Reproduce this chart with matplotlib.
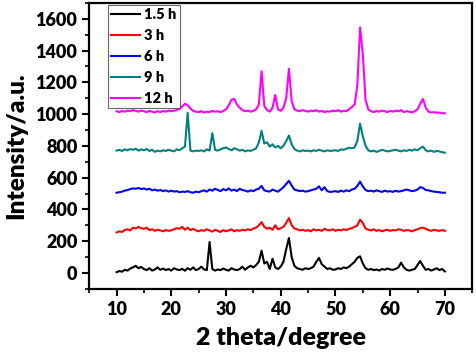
import numpy as np
import matplotlib
matplotlib.use('Agg')
import matplotlib.pyplot as plt
from matplotlib.ticker import MultipleLocator

plt.rcParams['font.family'] = ['Lato', 'DejaVu Sans']
plt.rcParams['font.weight'] = 'heavy'

# 2theta grid, 10..70 deg every 0.5 deg
two_theta = np.arange(10.0, 70.01, 0.5)

# intensities (already offset as in the plot)
h1_5 = [5, 12, 8, 20, 15, 28, 35, 45, 30, 38,
        25, 18, 30, 15, 22, 35, 20, 28, 18, 25,
        15, 30, 22, 18, 26, 14, 30, 20, 35, 18,
        25, 40, 22, 18, 195, 25, 15, 22, 18, 28,
        20, 15, 30, 22, 18, 25, 40, 20, 35, 45,
        35, 50, 70, 140, 60, 70, 25, 90, 35, 25,
        40, 70, 150, 220, 100, 45, 30, 25, 20, 30,
        25, 30, 40, 70, 95, 55, 40, 25, 30, 20,
        22, 30, 25, 35, 30, 40, 55, 70, 95, 105,
        60, 30, 20, 25, 18, 22, 15, 25, 20, 28,
        22, 20, 25, 35, 65, 35, 20, 15, 20, 25,
        50, 75, 45, 20, 25, 15, 22, 30, 18, 25,
        10]
h3 = [255, 262, 258, 270, 275, 268, 285, 280, 290, 282,
      278, 285, 270, 275, 265, 272, 268, 262, 270, 265,
      268, 275, 282, 278, 290, 272, 285, 270, 278, 268,
      262, 270, 265, 275, 268, 260, 272, 265, 258, 270,
      262, 268, 275, 262, 270, 265, 272, 268, 275, 270,
      280, 285, 300, 320, 290, 278, 285, 272, 300, 275,
      282, 290, 315, 345, 300, 280, 275, 268, 272, 265,
      270, 262, 275, 268, 272, 265, 278, 270, 268, 275,
      265, 272, 268, 275, 270, 278, 282, 290, 300, 335,
      315, 280, 272, 268, 275, 265, 270, 262, 268, 272,
      265, 270, 268, 275, 272, 265, 270, 268, 262, 270,
      275, 282, 285, 278, 270, 265, 272, 268, 265, 270,
      265]
h6 = [505, 508, 512, 518, 522, 528, 532, 530, 535, 528,
      532, 525, 530, 520, 525, 518, 522, 515, 520, 512,
      518, 512, 515, 508, 512, 510, 515, 508, 505, 512,
      508, 515, 520, 512, 525, 518, 530, 522, 515, 528,
      520, 532, 518, 525, 515, 530, 522, 518, 512, 520,
      515, 525, 530, 548, 520, 515, 512, 525, 518, 512,
      525, 540, 560, 580, 550, 525, 520, 515, 518, 512,
      515, 520, 525, 530, 545, 520, 540, 515, 510, 512,
      515, 510, 518, 512, 520, 515, 525, 530, 548, 575,
      545, 522, 515, 518, 512, 520, 515, 510, 518, 512,
      515, 510, 518, 512, 515, 520, 525, 520, 515, 518,
      525, 540, 535, 522, 520, 515, 512, 510, 508, 505,
      505]
h9 = [770, 775, 768, 778, 772, 780, 775, 782, 770, 778,
      772, 780, 768, 775, 762, 770, 765, 772, 768, 775,
      770, 765, 778, 772, 785, 795, 1008, 770, 765, 770,
      768, 772, 765, 778, 770, 880, 775, 770, 778, 785,
      790, 780, 772, 785, 778, 770, 775, 765, 772, 768,
      775, 785, 820, 895, 815, 822, 795, 810, 790, 800,
      785, 800, 830, 865, 810, 780, 770, 765, 772, 768,
      770, 765, 772, 768, 775, 770, 765, 772, 768, 770,
      772, 768, 778, 775, 782, 788, 785, 790, 830, 940,
      860, 800, 772, 765, 770, 762, 768, 775, 770, 765,
      768, 772, 775, 770, 765, 772, 768, 775, 770, 778,
      772, 785, 795, 772, 765, 770, 762, 768, 765, 760,
      757]
h12 = [1018, 1012, 1020, 1015, 1022, 1018, 1025, 1020, 1015, 1022,
       1018, 1012, 1020, 1015, 1010, 1018, 1012, 1020, 1015, 1022,
       1018, 1022, 1025, 1032, 1048, 1065, 1055, 1035, 1020, 1015,
       1012, 1018, 1010, 1015, 1012, 1020, 1015, 1018, 1012, 1020,
       1030, 1055, 1090, 1095, 1060, 1040, 1025, 1018, 1022, 1015,
       1020, 1030, 1060, 1270, 1050, 1025, 1015, 1040, 1120, 1030,
       1020, 1040, 1100, 1285, 1080, 1030, 1022, 1018, 1025, 1020,
       1015, 1022, 1018, 1025, 1015, 1020, 1012, 1018, 1015, 1022,
       1018, 1025, 1015, 1020, 1018, 1030, 1045, 1060, 1180, 1545,
       1380, 1090, 1030, 1018, 1012, 1020, 1015, 1022, 1018, 1012,
       1020, 1015, 1022, 1018, 1025, 1012, 1018, 1015, 1010, 1018,
       1030, 1065, 1095, 1040, 1015, 1010, 1012, 1008, 1010, 1005,
       1005]

labels = ['1.5 h', '3 h', '6 h', '9 h', '12 h']
colors = ['black', 'red', 'blue', '#008080', 'magenta']
series = [h1_5, h3, h6, h9, h12]

fig = plt.figure(figsize=(4.77, 3.54), dpi=100)
ax = fig.add_axes([0.187, 0.184, 0.803, 0.808])

for y, lab, c in zip(series, labels, colors):
    ax.plot(two_theta, y, color=c, lw=1.5, label=lab)

ax.set_xlim(5, 75)
ax.set_ylim(-100, 1700)
ax.xaxis.set_major_locator(MultipleLocator(10))
ax.xaxis.set_minor_locator(MultipleLocator(5))
ax.yaxis.set_major_locator(MultipleLocator(200))
ax.yaxis.set_minor_locator(MultipleLocator(100))
ax.set_xticks(np.arange(10, 71, 10))

for s in ax.spines.values():
    s.set_linewidth(1.6)
ax.tick_params(which='major', direction='out', length=5, width=1.5, labelsize=13)
ax.tick_params(which='minor', direction='out', length=3, width=1.2)
ax.tick_params(top=False, right=False)
for t in ax.get_xticklabels() + ax.get_yticklabels():
    t.set_fontweight('heavy')

ax.set_xlabel('2 theta/degree', fontsize=18, fontweight='heavy', labelpad=7)
ax.set_ylabel('Intensity/a.u.', fontsize=17.5, fontweight='heavy', labelpad=6)

leg = ax.legend(loc='upper left', bbox_to_anchor=(0.049, 0.992), fontsize=10.5,
                frameon=True, fancybox=False, edgecolor='#444444',
                handlelength=2.0, handletextpad=0.3, labelspacing=0.55,
                borderpad=0.2, borderaxespad=0)
leg.get_frame().set_linewidth(0.8)
for t in leg.get_texts():
    t.set_fontweight('heavy')

fig.savefig('out.png', dpi=100)
